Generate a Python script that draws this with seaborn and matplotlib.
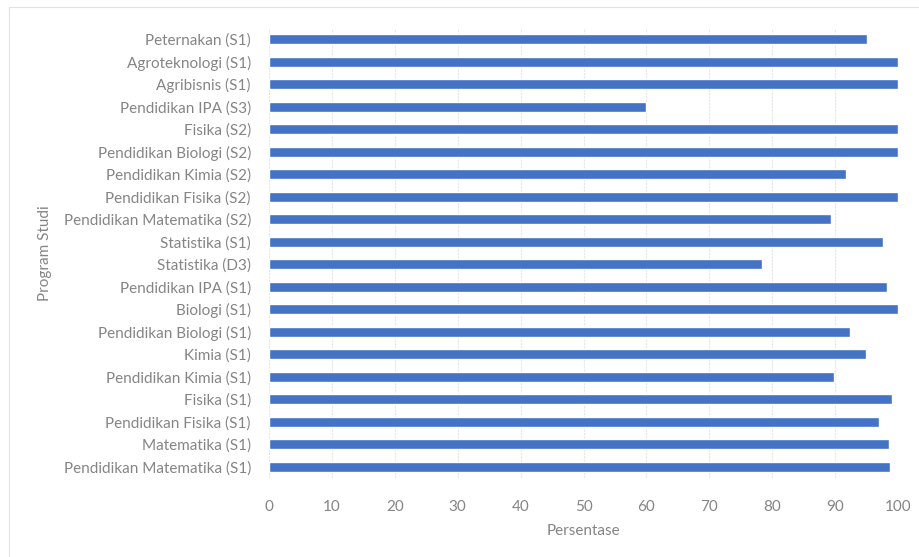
import matplotlib
matplotlib.use("Agg")
import matplotlib.pyplot as plt
import seaborn as sns
import pandas as pd
from matplotlib.patches import Rectangle

# Program studi, from top to bottom as shown in the chart
programs = [
    "Peternakan (S1)", "Agroteknologi (S1)", "Agribisnis (S1)",
    "Pendidikan IPA (S3)", "Fisika (S2)", "Pendidikan Biologi (S2)",
    "Pendidikan Kimia (S2)", "Pendidikan Fisika (S2)",
    "Pendidikan Matematika (S2)", "Statistika (S1)", "Statistika (D3)",
    "Pendidikan IPA (S1)", "Biologi (S1)", "Pendidikan Biologi (S1)",
    "Kimia (S1)", "Pendidikan Kimia (S1)", "Fisika (S1)",
    "Pendidikan Fisika (S1)", "Matematika (S1)", "Pendidikan Matematika (S1)",
]
percent = [
    95.1, 100, 100,
    60.0, 100, 100,
    91.7, 100,
    89.4, 97.6, 78.3,
    98.2, 100, 92.3,
    94.9, 89.8, 99.1,
    97.0, 98.6, 98.8,
]
x_ticks = list(range(0, 101, 10))

df = pd.DataFrame({"Program Studi": programs, "Persentase": percent})

sns.set_theme(style="white")
plt.rcParams["font.family"] = ["Lato", "DejaVu Sans"]
text_color = "#858585"

fig = plt.figure(figsize=(9.2, 5.57), dpi=100)
ax = fig.add_axes([0.2924, 0.1418, 0.6837, 0.8079])

sns.barplot(data=df, x="Persentase", y="Program Studi", orient="h",
            color="#4472C4", saturation=1, width=0.45, ax=ax, zorder=3)

ax.set_xlim(0, 100)
ax.set_xticks(x_ticks)
ax.set_ylim(len(programs) - 0.5, -0.5)
ax.grid(axis="x", color="#e6e6e6", linewidth=0.8, linestyle=(0, (2, 1)), zorder=0)
for side in ["top", "right", "left", "bottom"]:
    ax.spines[side].set_visible(False)

ax.tick_params(axis="both", length=0, labelsize=11, labelcolor=text_color)
ax.tick_params(axis="x", pad=16)
ax.tick_params(axis="y", pad=13)
ax.set_xlabel("Persentase", fontsize=11, color=text_color, labelpad=7)
ax.set_ylabel("Program Studi", fontsize=11, color=text_color, labelpad=8)

# faint chart-area frame
fig.patches.append(Rectangle((9 / 920, -0.02), 1.02, 1 - 7 / 557 + 0.02,
                             transform=fig.transFigure, fill=False,
                             edgecolor="#e2e2e2", linewidth=0.8))

fig.savefig("out.png", dpi=100, facecolor="white")
